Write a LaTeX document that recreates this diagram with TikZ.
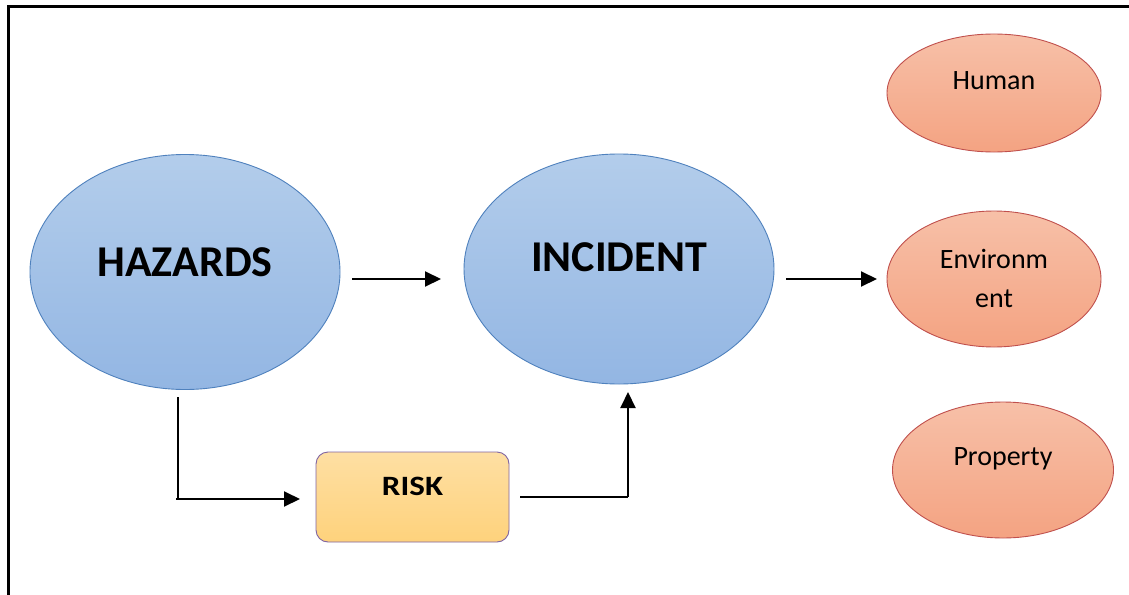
\documentclass[tikz,border=0pt]{standalone}
\usepackage{fontspec}
\setmainfont{Carlito}
\usetikzlibrary{shapes.geometric,arrows.meta}
\definecolor{blueTop}{HTML}{B3CDEB}
\definecolor{blueBot}{HTML}{93B6E3}
\definecolor{blueLine}{HTML}{4F81BD}
\definecolor{salTop}{HTML}{F7C0A8}
\definecolor{salBot}{HTML}{F4A382}
\definecolor{salLine}{HTML}{C0504D}
\definecolor{yelTop}{HTML}{FEDFA3}
\definecolor{yelBot}{HTML}{FED27C}
\definecolor{purLine}{HTML}{8064A2}
\begin{document}
\begin{tikzpicture}[x=1pt,y=-1pt,
  blueell/.style={ellipse,draw=blueLine,line width=0.9pt,top color=blueTop,bottom color=blueBot,inner sep=0pt},
  salell/.style={ellipse,draw=salLine,line width=0.9pt,top color=salTop,bottom color=salBot,inner sep=0pt},
  riskbox/.style={rectangle,rounded corners=12pt,draw=purLine,line width=0.9pt,top color=yelTop,bottom color=yelBot,inner sep=0pt},
  arr/.style={line width=2pt,-{Triangle[length=16pt,width=15pt]}},
  thin/.style={line width=1.2pt},
  bigtxt/.style={font=\fontsize{44}{44}\selectfont\bfseries},
  smtxt/.style={font=\fontsize{28}{39}\selectfont,align=center}
]
\useasboundingbox (0,0) rectangle (1129,594);
\fill[white] (0,0) rectangle (1129,594);
\draw[line width=3pt] (8,600) -- (8,7) -- (1135,7);

\node[blueell,minimum width=310pt,minimum height=235pt] (haz) at (185,272) {};
\node[bigtxt] (hazt) at (185,262) {HAZARDS};
\node[blueell,minimum width=310pt,minimum height=230pt] (inc) at (619,269) {};
\node[bigtxt] (inct) at (619,257) {INCIDENT};

\node[salell,minimum width=214pt,minimum height=118pt] (hum) at (994,93) {};
\node[smtxt] (humt) at (994,81) {Human};
\node[salell,minimum width=214pt,minimum height=136pt] (env) at (994,279) {};
\node[smtxt] (envt) at (994,278) {Environm\\ent};
\node[salell,minimum width=221pt,minimum height=136pt] (pro) at (1003,470) {};
\node[smtxt] (prot) at (1003,459) {Property};

\node[riskbox,minimum width=193pt,minimum height=90pt] (risk) at (412.5,497) {};
\node[font=\fontsize{28}{28}\selectfont\bfseries,xscale=1.18] (riskt) at (412.5,486) {RISK};

\coordinate (a1s) at (352,279);
\coordinate (a1e) at (441,279);
\draw[arr] (a1s) -- (a1e);
\coordinate (a2s) at (786,279);
\coordinate (a2e) at (877,279);
\draw[arr] (a2s) -- (a2e);

\coordinate (d1) at (178,397);
\coordinate (d2) at (178,500);
\coordinate (d3) at (176,499);
\coordinate (d4) at (300,499);
\draw[thin] (d1) -- (d2);
\draw[arr] (d3) -- (d4);

\coordinate (r1) at (520,497);
\coordinate (r2) at (628,497);
\coordinate (r3) at (628,392);
\draw[thin] (r1) -- (r2);
\draw[arr] (r2) -- (r3);
\end{tikzpicture}
\end{document}
